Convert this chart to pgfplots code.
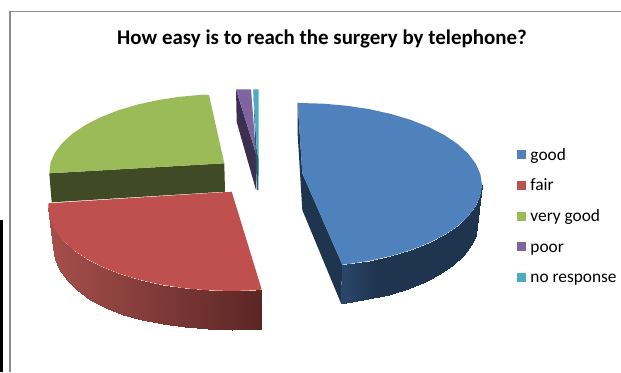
\documentclass[border=0pt]{standalone}
\usepackage{pgfplots}
\pgfplotsset{compat=1.18}
\usepackage{fontspec}
\setmainfont{Carlito}

% face colours of the slices
\definecolor{cgood}{HTML}{4F81BD}
\definecolor{cfair}{HTML}{C0504D}
\definecolor{cvery}{HTML}{9BBB59}
\definecolor{cpoor}{HTML}{8064A2}
\definecolor{cnone}{HTML}{4BACC6}
% inner walls
\definecolor{wgood}{HTML}{1F344F}
\definecolor{wvery}{HTML}{404A24}
\definecolor{wpoor}{HTML}{3D2F52}
\definecolor{wnone}{HTML}{1F5F6E}

\begin{document}
\begin{tikzpicture}
\begin{axis}[
  scale only axis, width=465.75pt, height=279pt,
  xmin=0, xmax=621, ymin=0, ymax=372, y dir=reverse,
  hide axis,
  colormap={rim fair}{rgb255(0cm)=(166,79,76); rgb255(1cm)=(90,38,36)},
  colormap={rim good}{rgb255(0cm)=(44,70,108); rgb255(1cm)=(31,52,79); rgb255(4cm)=(31,52,79)},
  title={\bfseries How easy is to reach the surgery by telephone?},
  every axis title shift=0pt,
  title style={at={(axis cs:322,38.5)}, anchor=center, font=\fontsize{15.7pt}{17pt}\selectfont, inner sep=0pt},
  legend style={at={(axis cs:516.7,149.5)}, anchor=north west, draw=none, fill=none, inner sep=0pt, outer sep=0pt,
    font=\fontsize{13pt}{14pt}\selectfont,
    nodes={inner sep=0pt, text height=8pt, text depth=3pt},
    row sep=12pt, /tikz/column 1/.style={column sep=3.4pt}},
  legend cell align=left,
]
% legend keys
\pgfplotsset{/pgfplots/legend image code/.code={\fill[#1] (0pt,-1.9pt) rectangle (6.9pt,4.9pt);}}
\addlegendimage{fill=cgood, draw=none}\addlegendentry{good}
\addlegendimage{fill=cfair, draw=none}\addlegendentry{fair}
\addlegendimage{fill=cvery, draw=none}\addlegendentry{very good}
\addlegendimage{fill=cpoor, draw=none}\addlegendentry{poor}
\addlegendimage{fill=cnone, draw=none}\addlegendentry{no response}

% chart frame and the dark strip at the lower left
\addplot[draw=black!45, line width=0.8pt] coordinates {(10,372) (10,11.5) (621,11.5)};
\addplot[draw=none, fill=black] coordinates {(0,220) (3,220) (3,372) (0,372)} -- cycle;

% very good
\addplot[draw=none, fill=wvery] coordinates {(49.3,173.3) (224.3,163.3) (225,191.7) (51.7,202.3)} -- cycle;
\addplot[draw=none, fill=cvery] coordinates {
  (49.3,173.3) (50.5,162.7) (55.0,152.6) (62.5,142.8) (72.7,133.5) (85.6,124.9)
  (100.8,117.1) (118.2,110.3) (137.5,104.6) (158.3,100.0) (180.2,96.7) (202.9,94.7)
  (209,95) (224.3,163.3)} -- cycle;

% poor
\addplot[draw=none, fill=wpoor] coordinates {(236,89.3) (256,153.7) (256,190) (236.7,122)} -- cycle;
\addplot[draw=none, fill=cpoor] coordinates {(236,89.3) (251,89.3) (256,153.7)} -- cycle;

% no response
\addplot[draw=none, fill=wnone] coordinates {(253.3,89.3) (256.8,150) (258.7,160) (258.3,190) (256.8,190)} -- cycle;
\addplot[draw=none, fill=cnone] coordinates {(253.3,89.3) (258.7,89.3) (258.7,160) (256.8,150)} -- cycle;

% fair: outer wall, then top face
\addplot[surf, shader=interp, mesh/rows=2, point meta=x, point meta rel=per plot, colormap name={rim fair}] table {
x y
48.3 208.0
49.9 218.8
54.6 229.5
62.3 239.8
72.9 249.5
86.2 258.5
102.0 266.7
120.0 273.9
140.0 279.9
161.5 284.7
184.2 288.2
207.8 290.3
231.7 291.0
255.6 290.3
261.7 289.5
53.3 248.0
54.8 258.7
59.4 269.2
66.9 279.9
77.2 290.0
90.2 299.9
105.6 308.0
123.1 314.6
142.5 320.0
163.4 324.0
185.5 327.2
208.4 329.3
231.7 330.0
255.0 329.3
261.7 329.3
};
\addplot[draw=none, fill=cfair] coordinates {
  (48.3,203.3) (48.3,208.0) (49.9,218.8) (54.6,229.5) (62.3,239.8) (72.9,249.5) (86.2,258.5)
  (102.0,266.7) (120.0,273.9) (140.0,279.9) (161.5,284.7) (184.2,288.2) (207.8,290.3)
  (231.7,291.0) (255.6,290.3) (261.7,289.5) (231.7,191.7)} -- cycle;

% good: inner wall, outer wall, top face
\addplot[draw=none, fill=wgood] coordinates {(297.7,102.7) (297.7,135) (302.3,210) (341,303.3) (342.3,264.6) (302.3,173.3)} -- cycle;
\addplot[surf, shader=interp, mesh/rows=2, point meta=x, point meta rel=per plot, colormap name={rim good}] table {
x y
342.3 264.6
347.1 264.2
369.7 260.8
391.0 256.0
410.8 250.1
428.7 243.0
444.4 234.9
457.6 226.0
468.1 216.4
475.8 206.2
480.4 195.7
482.0 185.0
341.0 303.3
345.8 302.7
367.7 299.3
388.5 294.6
407.8 288.7
425.2 281.6
440.4 273.6
453.3 264.8
463.5 255.2
471.0 245.1
475.5 234.6
477.0 224.0
};
\addplot[draw=none, fill=cgood] coordinates {
  (297.7,102.7) (300.0,103.0) (323.8,103.7) (347.1,105.8) (369.7,109.2) (391.0,114.0) (410.8,119.9)
  (428.7,127.0) (444.4,135.1) (457.6,144.0) (468.1,153.6) (475.8,163.8) (480.4,174.3)
  (482.0,185.0) (480.4,195.7) (475.8,206.2) (468.1,216.4) (457.6,226.0) (444.4,234.9)
  (428.7,243.0) (410.8,250.1) (391.0,256.0) (369.7,260.8) (347.1,264.2) (342.3,264.6)
  (302.3,173.3)} -- cycle;
\end{axis}
% page extent
\path (0,0) rectangle (465.75pt,279pt);
\end{tikzpicture}
\end{document}
